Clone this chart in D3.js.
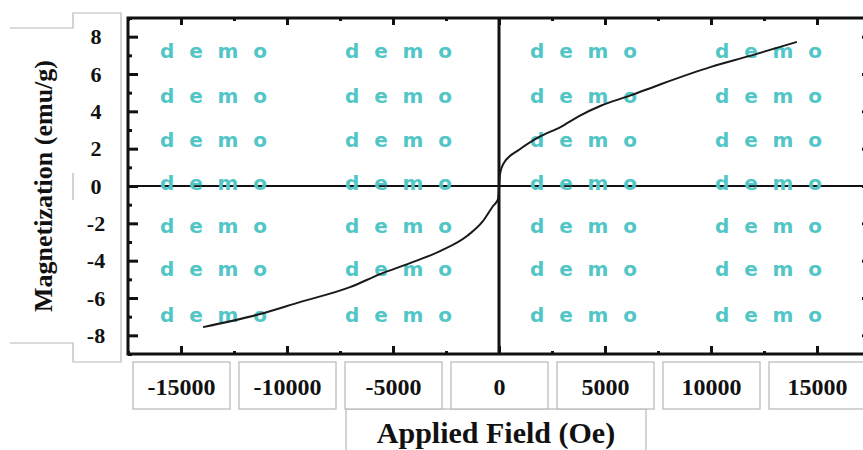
<!DOCTYPE html>
<html>
<head>
<meta charset="utf-8">
<script src="https://cdn.jsdelivr.net/npm/d3@7"></script>
<style>
  body { margin: 0; background: #fff; }
  svg { display: block; }
  .serif { font-family: "Liberation Serif", "Times New Roman", serif; font-weight: bold; fill: #111; }
</style>
</head>
<body>
<div id="chart"></div>
<script>
// Data
var fieldOe = [-13960, -11270, -9390, -7030, -5610, -4200, -2780, -1510, -760, -280, -50,
               50, 200, 1000, 1900, 2900, 3800, 4800, 6180, 7600, 10000, 11840, 14050];
var magnetization = [-7.56, -6.86, -6.22, -5.42, -4.72, -4.13, -3.49, -2.68, -1.88, -1.07, -0.72,
                     0.65, 1.18, 1.98, 2.63, 3.16, 3.76, 4.3, 4.84, 5.44, 6.38, 6.97, 7.72];
var xTicks = [-15000, -10000, -5000, 0, 5000, 10000, 15000];
var xMinorTicks = [-17500, -12500, -7500, -2500, 2500, 7500, 12500, 17500];
var yTicks = [-8, -6, -4, -2, 0, 2, 4, 6, 8];
var yMinorTicks = [-9, -7, -5, -3, -1, 1, 3, 5, 7, 9];
var xTitle = 'Applied Field (Oe)';
var yTitle = 'Magnetization (emu/g)';

var W = 863, H = 450;
var svg = d3.select('#chart').append('svg')
    .attr('width', W).attr('height', H);

var x = d3.scaleLinear().domain([-17500, 17500]).range([128, 870]);
var y = d3.scaleLinear().domain([-9, 9]).range([354, 18]);

var boxStroke = '#b8b8b8';
var plain = function(d) { return String(d); };   // keep ASCII hyphen for negatives

// Y title box and tick-label box (only the visible edges)
svg.append('path')
    .attr('fill', 'none').attr('stroke', boxStroke).attr('stroke-width', 1.2)
    .attr('d', 'M10,28H73V13H121V362H73V343H10M73,173V200');

// X title box
svg.append('rect')
    .attr('x', 346).attr('y', 409).attr('width', 300).attr('height', 70)
    .attr('fill', '#fff').attr('stroke', boxStroke).attr('stroke-width', 1.2);

// X tick label boxes
svg.selectAll('.xbox')
    .data(xTicks)
    .enter()
    .append('rect')
    .attr('class', 'xbox')
    .attr('x', function(d) { return x(d) - 48; })
    .attr('y', 362).attr('width', 97).attr('height', 47)
    .attr('fill', '#fff').attr('stroke', boxStroke).attr('stroke-width', 1.2);

// Zero lines
svg.append('line')
    .attr('x1', x.range()[0]).attr('x2', x.range()[1])
    .attr('y1', y(0)).attr('y2', y(0))
    .attr('stroke', '#111').attr('stroke-width', 2);
svg.append('line')
    .attr('x1', x(0)).attr('x2', x(0))
    .attr('y1', y.range()[0]).attr('y2', y.range()[1])
    .attr('stroke', '#111').attr('stroke-width', 3);

// Watermark
var wmCols = [213, 398, 583, 768];
var wmRows = [51, 96, 140, 183, 226, 269, 315];
wmRows.forEach(function(ry) {
    wmCols.forEach(function(cx) {
        svg.append('text')
            .attr('x', cx - 53).attr('y', ry + 7)
            .attr('textLength', 107).attr('lengthAdjust', 'spacing')
            .attr('font-family', '"DejaVu Sans", sans-serif')
            .attr('font-weight', 'bold')
            .attr('font-size', 20)
            .attr('fill', '#52c6c6')
            .text('demo');
    });
});

// Curve
var line = d3.line()
    .x(function(d, i) { return x(fieldOe[i]); })
    .y(function(d) { return y(d); })
    .curve(d3.curveMonotoneX);

svg.append('path')
    .datum(magnetization)
    .attr('fill', 'none')
    .attr('stroke', '#1a1a1a')
    .attr('stroke-width', 2)
    .attr('d', line);

// Tick marks on all four sides (inward)
function ticks(axis, transform, size, values) {
    var g = svg.append('g')
        .attr('transform', transform)
        .call(axis.tickValues(values).tickSize(size).tickFormat(''));
    g.select('.domain').remove();
    g.selectAll('line').attr('stroke', '#111').attr('stroke-width', 3);
}
ticks(d3.axisTop(x), 'translate(0,' + y.range()[0] + ')', 8, xTicks);
ticks(d3.axisTop(x), 'translate(0,' + y.range()[0] + ')', 3, xMinorTicks);
ticks(d3.axisBottom(x), 'translate(0,' + y.range()[1] + ')', 7, xTicks);
ticks(d3.axisBottom(x), 'translate(0,' + y.range()[1] + ')', 3, xMinorTicks);
ticks(d3.axisRight(y), 'translate(' + x.range()[0] + ',0)', 10, yTicks);
ticks(d3.axisRight(y), 'translate(' + x.range()[0] + ',0)', 4, yMinorTicks);
ticks(d3.axisLeft(y), 'translate(' + x.range()[1] + ',0)', 8, yTicks);

// Frame
svg.append('rect')
    .attr('x', x.range()[0]).attr('y', y.range()[1])
    .attr('width', x.range()[1] - x.range()[0])
    .attr('height', y.range()[0] - y.range()[1])
    .attr('fill', 'none').attr('stroke', '#111').attr('stroke-width', 3);

// Tick labels
var xAxis = svg.append('g')
    .attr('transform', 'translate(0,' + y.range()[0] + ')')
    .call(d3.axisBottom(x).tickValues(xTicks).tickSize(0).tickPadding(24).tickFormat(plain));
xAxis.select('.domain').remove();
xAxis.selectAll('text')
    .attr('font-size', 24)
    .style('font-family', '"Liberation Serif", "Times New Roman", serif')
    .style('font-weight', 'bold')
    .attr('fill', '#111');

var yAxis = svg.append('g')
    .attr('transform', 'translate(' + x.range()[0] + ',0)')
    .call(d3.axisLeft(y).tickValues(yTicks).tickSize(0).tickPadding(32).tickFormat(plain));
yAxis.select('.domain').remove();
yAxis.selectAll('text')
    .attr('text-anchor', 'middle')
    .attr('font-size', 22)
    .style('font-family', '"Liberation Serif", "Times New Roman", serif')
    .style('font-weight', 'bold')
    .attr('fill', '#111');

// Titles
svg.append('text')
    .attr('class', 'serif')
    .attr('x', 496).attr('y', 443)
    .attr('text-anchor', 'middle')
    .attr('font-size', 30)
    .text(xTitle);

svg.append('text')
    .attr('class', 'serif')
    .attr('transform', 'translate(52,186) rotate(-90)')
    .attr('text-anchor', 'middle')
    .attr('font-size', 26)
    .text(yTitle);
</script>
</body>
</html>
